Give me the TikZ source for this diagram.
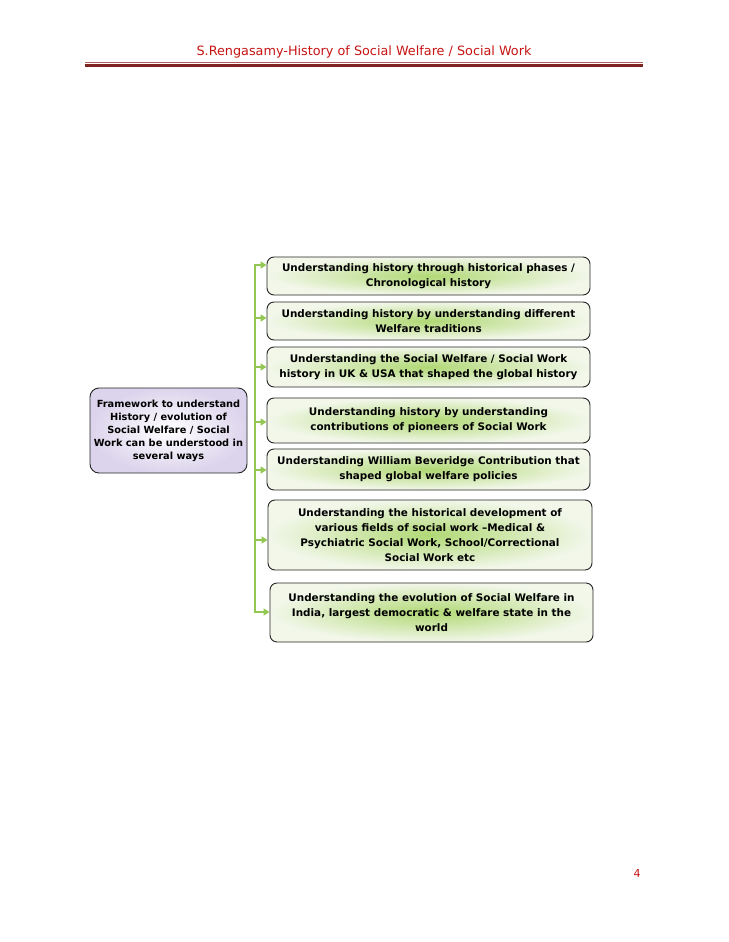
\documentclass[tikz,border=0pt]{standalone}
\usepackage{fontspec}
\setmainfont{DejaVu Sans}
\usetikzlibrary{arrows.meta}
\definecolor{hdrred}{RGB}{200,20,20}
\definecolor{maroon}{RGB}{130,35,35}
\definecolor{maroonlt}{RGB}{175,95,95}
\definecolor{brgreen}{RGB}{146,200,82}
\definecolor{boxin}{RGB}{176,216,116}
\definecolor{boxout}{RGB}{242,247,234}
\definecolor{lavout}{RGB}{220,212,236}
\tikzset{
  gbox/.style={draw=black!85, line width=0.9pt, rounded corners=7pt,
    inner color=boxin, outer color=boxout, align=center,
    font=\fontsize{10.4}{15}\selectfont\bfseries, inner sep=2pt,
    minimum width=323pt},
  lbox/.style={draw=black!85, line width=0.9pt, rounded corners=9pt,
    inner color=white, outer color=lavout, align=center,
    font=\fontsize{9.8}{13}\selectfont\bfseries, inner sep=2pt,
    minimum width=157pt, minimum height=85pt},
  trunk/.style={draw=brgreen, line width=2.8pt},
  arr/.style={draw=brgreen, line width=2.8pt, -{Triangle[length=6pt,width=7pt]}}
}
\begin{document}
\begin{tikzpicture}[x=1pt,y=-1pt]
\useasboundingbox[fill=white] (0,0) rectangle (728,942);
% header
\node[font=\fontsize{12.8}{14}\selectfont, text=hdrred, anchor=base] (hdr) at (364,56) {S.Rengasamy-History of Social Welfare / Social Work};
\draw[maroonlt, line width=1pt] (85,62.3) -- (643,62.3);
\draw[maroon, line width=3pt] (85,65.3) -- (643,65.3);
% left box
\node[lbox] (L) at (168.5,430.5) {Framework to understand\\History / evolution of\\Social Welfare / Social\\Work can be understood in\\several ways};
% right boxes
\node[gbox, minimum height=38pt] (b1) at (428.5,276) {Understanding history through historical phases /\\Chronological history};
\node[gbox, minimum height=38pt] (b2) at (428.5,321) {Understanding history by understanding different\\Welfare traditions};
\node[gbox, minimum height=40pt] (b3) at (428.5,367) {Understanding the Social Welfare / Social Work\\history in UK \& USA that shaped the global history};
\node[gbox, minimum height=45pt] (b4) at (428.5,420.5) {Understanding history by understanding\\contributions of pioneers of Social Work};
\node[gbox, minimum height=41pt] (b5) at (428.5,469.5) {Understanding William Beveridge Contribution that\\shaped global welfare policies};
\node[gbox, minimum height=70pt, minimum width=324pt] (b6) at (430,535) {Understanding the historical development of\\various fields of social work --Medical \&\\Psychiatric Social Work, School/Correctional\\Social Work etc};
\node[gbox, minimum height=59pt] (b7) at (431.5,612.5) {Understanding the evolution of Social Welfare in\\India, largest democratic \& welfare state in the\\world};
% connectors
\coordinate (t1) at (255,265);
\coordinate (t2) at (255,318);
\coordinate (t3) at (255,367);
\coordinate (t4) at (255,422);
\coordinate (t5) at (255,470);
\coordinate (t6) at (255,540);
\coordinate (t7) at (255,612);
\draw[trunk] (t1) -- (t7);
\draw[arr] ([xshift=-1.4pt]t1) -- (t1 -| b1.west);
\draw[arr] (t2) -- (t2 -| b2.west);
\draw[arr] (t3) -- (t3 -| b3.west);
\draw[arr] (t4) -- (t4 -| b4.west);
\draw[arr] (t5) -- (t5 -| b5.west);
\draw[arr] (t6) -- (t6 -| b6.west);
\draw[arr] ([xshift=-1.4pt]t7) -- (t7 -| b7.west);
% page number
\node[font=\fontsize{11}{12}\selectfont, text=hdrred] (pg) at (637,873) {4};
\end{tikzpicture}
\end{document}
